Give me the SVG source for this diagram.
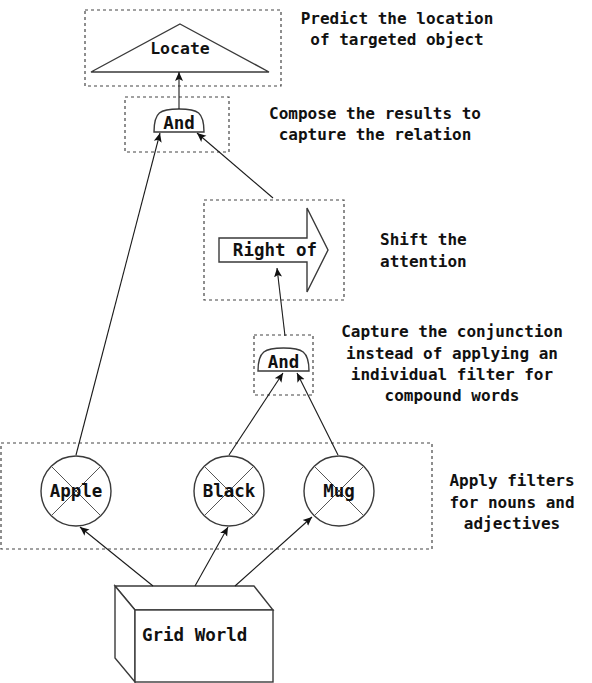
<svg xmlns="http://www.w3.org/2000/svg" width="592" height="683" viewBox="0 0 592 683">
<style>
text{font-family:"DejaVu Sans Mono","Liberation Mono",monospace;font-weight:bold;font-size:16px;fill:#111}
.c{text-anchor:middle}
.n{font-size:17.5px}
.box{fill:none;stroke:#444;stroke-width:1.2;stroke-dasharray:3 3}
.shp{fill:#fff;stroke:#3a3a3a;stroke-width:1.4}
.x{stroke:#555;stroke-width:1}
.edge{fill:none;stroke:#1a1a1a;stroke-width:1.1;marker-end:url(#ah)}
</style>
<defs>
<marker id="ah" markerWidth="10" markerHeight="10" refX="9" refY="5" orient="auto" markerUnits="userSpaceOnUse">
<path d="M0,1 L9,5 L0,9 L2,5 Z" fill="#111"/>
</marker>
</defs>
<rect width="592" height="683" fill="#fff"/>

<g id="locate">
<rect class="box" x="85" y="10" width="196" height="76"/>
<path class="shp" d="M180,24 L269,72 L91,72 Z"/>
<text class="c" x="180" y="54" style="font-size:16.5px">Locate</text>
</g>

<g id="and-top">
<rect class="box" x="125" y="97" width="104" height="55"/>
<path class="shp" d="M154,132 C154,112 160,109 179,109 C198,109 204,112 204,132 Z"/>
<text class="c n" x="179" y="129">And</text>
</g>

<g id="right-of">
<rect class="box" x="204" y="200" width="140" height="100"/>
<path class="shp" d="M219,238 H307 V208 L328,250 L307,292 V262 H219 Z"/>
<text class="c n" x="275" y="256">Right of</text>
</g>

<g id="and-low">
<rect class="box" x="254" y="335" width="59" height="60"/>
<path class="shp" d="M258,371 C258,351 265,348 283.5,348 C302,348 309,351 309,371 Z"/>
<text class="c n" x="283.5" y="368">And</text>
</g>

<g id="filters">
<rect class="box" x="1" y="443" width="431" height="106"/>
</g>

<g id="apple">
<circle class="shp" cx="76" cy="491" r="35"/>
<path class="x" d="M51.3,466.3 L100.7,515.7 M100.7,466.3 L51.3,515.7"/>
<text class="c n" x="76" y="497">Apple</text>
</g>
<g id="black">
<circle class="shp" cx="229" cy="491" r="35"/>
<path class="x" d="M204.3,466.3 L253.7,515.7 M253.7,466.3 L204.3,515.7"/>
<text class="c n" x="229" y="497">Black</text>
</g>
<g id="mug">
<circle class="shp" cx="339" cy="491" r="35"/>
<path class="x" d="M314.3,466.3 L363.7,515.7 M363.7,466.3 L314.3,515.7"/>
<text class="c n" x="339" y="497">Mug</text>
</g>

<g id="grid-world">
<path class="shp" d="M115,586 H254 L273,610 H135 Z"/>
<path class="shp" d="M115,586 L135,610 V682 L115,658 Z"/>
<rect class="shp" x="135" y="610" width="138" height="72"/>
<text x="142" y="641" style="font-size:17.5px">Grid World</text>
</g>

<g id="connectors">
<line class="edge" x1="179" y1="109" x2="179" y2="72"/>
<line class="edge" x1="76" y1="455" x2="160" y2="133"/>
<line class="edge" x1="273" y1="198" x2="197" y2="133"/>
<line class="edge" x1="285" y1="336" x2="277" y2="268"/>
<line class="edge" x1="229" y1="455" x2="283" y2="373"/>
<line class="edge" x1="338" y1="455" x2="297" y2="373"/>
<line class="edge" x1="153" y1="586" x2="80" y2="527"/>
<line class="edge" x1="195" y1="586" x2="228" y2="527"/>
<line class="edge" x1="235" y1="586" x2="312" y2="517"/>
</g>

<g id="notes">
<text class="c" x="397" y="24">Predict the location</text>
<text class="c" x="397" y="45">of targeted object</text>
<text class="c" x="375" y="119">Compose the results to</text>
<text class="c" x="375" y="140">capture the relation</text>
<text x="380" y="245">Shift the</text>
<text x="380" y="267">attention</text>
<text class="c" x="452" y="337">Capture the conjunction</text>
<text class="c" x="452" y="359">instead of applying an</text>
<text class="c" x="452" y="380">individual filter for</text>
<text class="c" x="452" y="401">compound words</text>
<text class="c" x="512" y="486">Apply filters</text>
<text class="c" x="512" y="508">for nouns and</text>
<text class="c" x="512" y="529">adjectives</text>
</g>
</svg>
